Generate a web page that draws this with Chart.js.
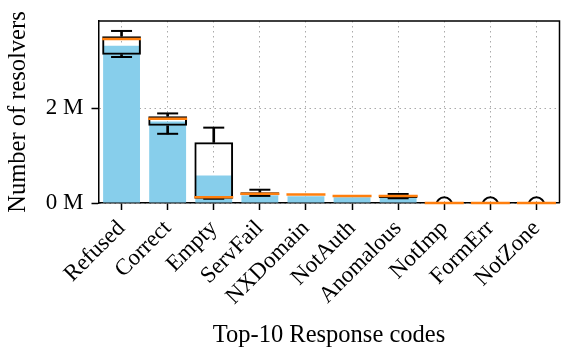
<!DOCTYPE html>
<html>
<head>
<meta charset="utf-8">
<script src="https://cdn.jsdelivr.net/npm/chart.js@4"></script>
<style>
  body { margin: 0; background: #fff; }
  #wrap { width: 561px; height: 350px; }
</style>
</head>
<body>
<div id="wrap"><canvas id="codesChart"></canvas></div>
<script>
// values in millions of resolvers
var labels = ["Refused", "Correct", "Empty", "ServFail", "NXDomain", "NotAuth", "Anomalous", "NotImp", "FormErr", "NotZone"];
var barValues = [3.32, 1.72, 0.58, 0.16, 0.14, 0.12, 0.12, 0.005, 0.004, 0.003];
var whiskerHigh = [3.63, 1.89, 1.59, 0.28, null, null, 0.19, null, null, null];
var boxQ3 = [3.52, 1.83, 1.28, 0.225, null, null, 0.165, null, null, null];
var medians = [3.46, 1.78, 0.12, 0.195, 0.18, 0.15, 0.15, 0, 0, 0];
var boxQ1 = [3.13, 1.63, 0.09, 0.165, null, null, 0.105, null, null, null];
var whiskerLow = [3.08, 1.46, 0.09, 0.15, null, null, 0.1, null, null, null];
var fliers = [null, null, null, null, null, null, null, -0.05, -0.05, -0.05];
var yTicks = [0, 2];

var fontFamily = "'Liberation Serif', serif";

function range(lo, hi) {
  return lo.map(function (v, i) {
    return v == null || hi[i] == null ? null : [v, hi[i]];
  });
}

// top and right spines
var frame = {
  id: "frame",
  beforeDatasetsDraw: function (chart) {
    var a = chart.chartArea, ctx = chart.ctx;
    ctx.save();
    ctx.strokeStyle = "#000";
    ctx.lineWidth = 1.5;
    ctx.beginPath();
    ctx.moveTo(a.left, a.top);
    ctx.lineTo(a.right, a.top);
    ctx.lineTo(a.right, a.bottom);
    ctx.stroke();
    ctx.restore();
  },
};

window.addEventListener("DOMContentLoaded", function () {
  var ctx = document.getElementById("codesChart").getContext("2d");
  new Chart(ctx, {
    type: "bar",
    plugins: [frame],
    data: {
      labels: labels,
      datasets: [
        {
          label: "Resolvers",
          data: barValues,
          backgroundColor: "#87ceeb",
          grouped: false,
          categoryPercentage: 0.8,
          barPercentage: 1,
          order: 6,
        },
        {
          label: "Whisker low",
          data: range(whiskerLow, boxQ1),
          backgroundColor: "#000",
          grouped: false,
          barThickness: 2,
          order: 5,
        },
        {
          label: "Whisker high",
          data: range(boxQ3, whiskerHigh),
          backgroundColor: "#000",
          grouped: false,
          barThickness: 2,
          order: 5,
        },
        {
          label: "Box",
          data: range(boxQ1, boxQ3),
          backgroundColor: "rgba(0,0,0,0)",
          borderColor: "#000",
          borderWidth: 2,
          borderSkipped: false,
          grouped: false,
          categoryPercentage: 0.84,
          barPercentage: 1,
          order: 4,
        },
        {
          type: "line",
          label: "Cap high",
          data: whiskerHigh,
          showLine: false,
          pointStyle: "line",
          pointRadius: 10.5,
          pointBorderWidth: 2,
          pointBorderColor: "#000",
          order: 3,
        },
        {
          type: "line",
          label: "Cap low",
          data: whiskerLow,
          showLine: false,
          pointStyle: "line",
          pointRadius: 10.5,
          pointBorderWidth: 2,
          pointBorderColor: "#000",
          order: 3,
        },
        {
          type: "line",
          label: "Median",
          data: medians,
          showLine: false,
          pointStyle: "line",
          pointRadius: 19.5,
          pointBorderWidth: 2.5,
          pointBorderColor: "#ff7f0e",
          clip: 4,
          order: 1,
        },
        {
          type: "line",
          label: "Outliers",
          data: fliers,
          showLine: false,
          pointStyle: "circle",
          pointRadius: 8,
          pointBorderWidth: 2,
          pointBorderColor: "#000",
          pointBackgroundColor: "rgba(0,0,0,0)",
          clip: 0,
          order: 2,
        },
      ],
    },
    options: {
      responsive: true,
      maintainAspectRatio: false,
      animation: false,
      events: [],
      layout: { autoPadding: false, padding: { top: 21, right: 1.5, left: 0, bottom: 0 } },
      plugins: { legend: { display: false }, tooltip: { enabled: false } },
      scales: {
        x: {
          afterFit: function (scale) {
            scale.height = 147;
            scale.paddingLeft = 0;
            scale.paddingRight = 0;
          },
          grid: {
            offset: false,
            color: "#aaaaaa",
            lineWidth: 1,
            tickColor: "#000",
            tickWidth: 1.5,
            tickLength: 7,
            tickBorderDash: [],
          },
          border: { color: "#000", width: 1.5, dash: [1.5, 3.5] },
          ticks: {
            color: "#000",
            font: { family: fontFamily, size: 23 },
            maxRotation: 45,
            minRotation: 45,
            autoSkip: false,
            padding: 5,
          },
          title: {
            display: true,
            text: "Top-10 Response codes",
            color: "#000",
            font: { family: fontFamily, size: 24.5 },
            padding: { top: 0, bottom: 0 },
          },
        },
        y: {
          min: 0,
          max: 3.84,
          afterFit: function (scale) {
            scale.width = 98.5;
            scale.paddingTop = 0;
            scale.paddingBottom = 0;
          },
          afterBuildTicks: function (scale) {
            scale.ticks = yTicks.map(function (v) { return { value: v }; });
          },
          grid: {
            color: "#aaaaaa",
            lineWidth: 1,
            tickColor: "#000",
            tickWidth: 1.5,
            tickLength: 7,
            tickBorderDash: [],
          },
          border: { color: "#000", width: 1.5, dash: [1.5, 3.5] },
          ticks: {
            color: "#000",
            font: { family: fontFamily, size: 23 },
            padding: 8,
            callback: function (v) { return v + " M"; },
          },
          title: {
            display: true,
            text: "Number of resolvers",
            color: "#000",
            font: { family: fontFamily, size: 24.5, lineHeight: 1 },
            padding: { top: 6, bottom: 0 },
          },
        },
      },
    },
  });
});
</script>
</body>
</html>
